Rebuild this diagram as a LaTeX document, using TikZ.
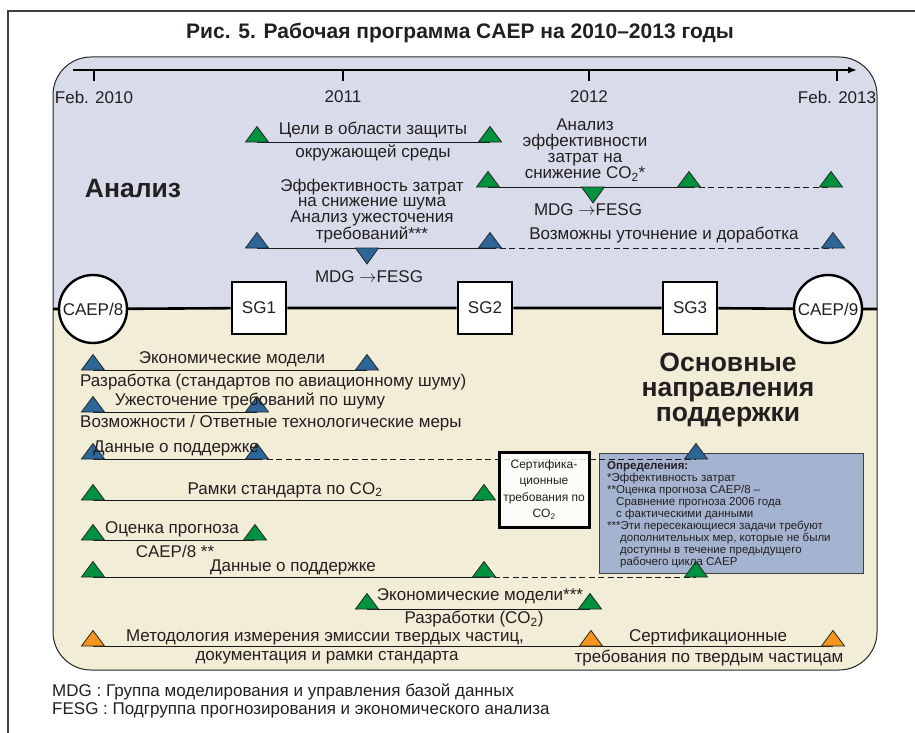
\documentclass[tikz,border=0pt]{standalone}
\usepackage{fontspec}
\setmainfont{Liberation Sans}
\usepackage{tikz}
\usetikzlibrary{arrows.meta,positioning}
\definecolor{anabg}{RGB}{216,220,234}
\definecolor{supbg}{RGB}{241,237,214}
\definecolor{defbg}{RGB}{164,179,207}
\definecolor{tgreen}{RGB}{0,146,63}
\definecolor{tblue}{RGB}{45,103,153}
\definecolor{torange}{RGB}{247,148,30}
\definecolor{txt}{RGB}{35,31,32}

\begin{document}
\begin{tikzpicture}[x=1pt,y=-1pt,
    lbl/.style={font=\fontsize{17}{16}\selectfont,text=txt,inner sep=0pt,align=center},
    head/.style={font=\fontsize{26.5}{25}\selectfont\bfseries,text=txt,inner sep=0pt,align=center},
    defs/.style={font=\fontsize{11.5}{12}\selectfont,text=txt,inner sep=0pt,align=left},
    sgbox/.style={draw,line width=2.6pt,fill=white,minimum width=54pt,minimum height=52pt,inner sep=0pt,font=\fontsize{17}{17}\selectfont,text=txt},
    caep/.style={draw,circle,line width=2.4pt,fill=white,minimum size=68pt,inner sep=0pt,font=\fontsize{17}{17}\selectfont,text=txt},
    bar/.style={line width=1pt,black!90},
    dbar/.style={line width=1pt,black!90,dash pattern=on 6pt off 3.5pt},
    pics/tri/.style={code={\filldraw[fill=#1,draw=black!85,line width=0.8pt] (-11.5,0) -- (11.5,0) -- (0,-15.5) -- cycle;}},
    pics/invtri/.style={code={\filldraw[fill=#1,draw=black!85,line width=0.8pt] (-11.5,0) -- (11.5,0) -- (0,16) -- cycle;}}]
\useasboundingbox (0,0) rectangle (915,733);
%Frame
\draw[line width=2pt,black!75] (8,733) -- (8,11) -- (915,11);
\node[font=\fontsize{21}{21}\selectfont\bfseries,text=txt] (title) at (460,33) {Рис. 5. Рабочая программа CAEP на 2010–2013 годы};
%Shade
\begin{scope}
  \clip[rounded corners=38pt] (53,57) rectangle (877,670);
  \fill[anabg] (53,57) rectangle (877,309);
  \fill[supbg] (53,309) rectangle (877,670);
\end{scope}
\draw[line width=1pt,black!85,rounded corners=38pt] (53,57) rectangle (877,670);
%Axis
\coordinate (ax0) at (73,70);
\coordinate (ax1) at (857,70);
\draw[line width=2pt,-{Latex[length=9pt,width=7pt]}] (ax0) -- (ax1);
\foreach \x/\t in {94/Feb. 2010,343/2011,589/2012,837/Feb. 2013}{
  \draw[line width=2pt] (\x,70) -- (\x,81);
  \node[lbl] at (\x,97) {\t};
}
%Milestones
\coordinate (tl) at (53,309);
\coordinate (tr) at (877,309);
\node[caep] (caep8) at (93,309) {CAEP/8};
\node[sgbox] (sg1) at (259,308) {SG1};
\node[sgbox] (sg2) at (485,308) {SG2};
\node[sgbox] (sg3) at (690,308) {SG3};
\node[caep] (caep9) at (828,309) {CAEP/9};
\draw[line width=2.6pt] (tl) -- (caep8) -- (sg1) -- (sg2) -- (sg3) -- (caep9) -- (tr);
%Analysis rows
\coordinate (e1) at (257,142);
\coordinate (e2) at (490,142);
\coordinate (c1) at (488,187);
\coordinate (c2) at (689,187);
\coordinate (c3) at (831,187);
\coordinate (cd) at (593,187);
\coordinate (n1) at (257,248);
\coordinate (n2) at (490,248);
\coordinate (n3) at (833,248);
\coordinate (nd) at (367,248);
\draw[bar] (e1) -- (e2);
\draw[bar] (c1) -- (c2);
\draw[dbar] (c2) -- (c3);
\draw[bar] (n1) -- (n2);
\draw[dbar] (n2) -- (n3);
\foreach \c in {e1,e2,c1,c2,c3} \pic at (\c) {tri=tgreen};
\pic at (cd) {invtri=tgreen};
\foreach \c in {n1,n2,n3} \pic at (\c) {tri=tblue};
\pic at (nd) {invtri=tblue};
%Support rows
\coordinate (m1) at (93,370);
\coordinate (m2) at (367,370);
\coordinate (s1) at (93,412);
\coordinate (s2) at (257,412);
\coordinate (d1) at (93,459);
\coordinate (d2) at (257,459);
\coordinate (d3) at (696,459);
\coordinate (f1) at (93,500);
\coordinate (f2) at (484,500);
\coordinate (o1) at (93,540);
\coordinate (o2) at (255,540);
\coordinate (g1) at (93,577);
\coordinate (g2) at (484,577);
\coordinate (g3) at (696,577);
\coordinate (k1) at (367,609);
\coordinate (k2) at (590,609);
\coordinate (p1) at (93,646);
\coordinate (p2) at (591,646);
\coordinate (p3) at (833,646);
\fill[defbg,draw=black!75,line width=1pt] (599,453) rectangle (863,573);
\draw[bar] (m1) -- (m2);
\draw[bar] (s1) -- (s2);
\draw[bar] (d1) -- (d2);
\draw[dbar] (d2) -- (d3);
\draw[bar] (f1) -- (f2);
\draw[bar] (o1) -- (o2);
\draw[bar] (g1) -- (g2);
\draw[dbar] (g2) -- (g3);
\draw[bar] (k1) -- (k2);
\draw[bar] (p1) -- (p3);
\foreach \c in {m1,m2,s1,s2,d1,d2,d3} \pic at (\c) {tri=tblue};
\foreach \c in {f1,f2,o1,o2,g1,g2,g3,k1,k2} \pic at (\c) {tri=tgreen};
\foreach \c in {p1,p2,p3} \pic at (\c) {tri=torange};
\node[draw,line width=3pt,fill=white!96!supbg,fill opacity=0.85,text opacity=1,minimum width=90pt,minimum height=75pt,inner sep=0pt,
  font=\fontsize{12}{16.5}\selectfont,text=txt,align=center] (cert) at (544,489.5) {Сертифика-\\ционные\\требования по\\CO\textsubscript{2}};
%Labels
\node[head] (ana) at (133,189) {Анализ};
\node[head] (sup) at (728,390) {Основные\\направления\\поддержки};
\node[lbl] (envt) at (373,130) {Цели в области защиты};
\node[lbl] (envb) at (373,153) {окружающей среды};
\node[lbl] (cost) at (585,150) {Анализ\\эффективности\\затрат на\\снижение CO\textsubscript{2}*};
\node[lbl] (cmdg) at (588,210) {MDG $\rightarrow$FESG};
\node[lbl,font=\fontsize{17}{15.3}\selectfont] (noise) at (372,211) {Эффективность затрат\\на снижение шума\\Анализ ужесточения\\требований***};
\node[lbl] (nmdg) at (369,277) {MDG $\rightarrow$FESG};
\node[lbl] (refine) at (664,235) {Возможны уточнение и доработка};
\node[lbl] (econ) at (232,359) {Экономические модели};
\node[lbl,anchor=west] (dev) at (80,382) {Разработка (стандартов по авиационному шуму)};
\node[lbl] (strin) at (250,401) {Ужесточение требований по шуму};
\node[lbl,anchor=west] (tech) at (80,423) {Возможности / Ответные технологические меры};
\node[lbl] (data) at (176,448) {Данные о поддержке};
\node[lbl] (frame) at (285,490) {Рамки стандарта по CO\textsubscript{2}};
\node[lbl] (outl) at (172,529) {Оценка прогноза};
\node[lbl] (outc) at (175,551) {CAEP/8 **};
\node[lbl] (gdata) at (293,567) {Данные о поддержке};
\node[lbl] (econc) at (480,596) {Экономические модели***};
\node[lbl] (devc) at (474,619) {Разработки (CO\textsubscript{2})};
\node[lbl] (pmt) at (325,637) {Методология измерения эмиссии твердых частиц,};
\node[lbl] (pmb) at (327,658) {документация и рамки стандарта};
\node[lbl] (pct) at (708,637) {Сертификационные};
\node[lbl] (pcb) at (709,658) {требования по твердым частицам};
\node[defs,anchor=north west] (def) at (607,461) {\textbf{Определения:}\\
*Эффективность затрат\\
**Оценка прогноза CAEP/8 –\\
\hspace*{9pt}Сравнение прогноза 2006 года\\
\hspace*{9pt}с фактическими данными\\
***Эти пересекающиеся задачи требуют\\
\hspace*{13pt}дополнительных мер, которые не были\\
\hspace*{13pt}доступны в течение предыдущего\\
\hspace*{13pt}рабочего цикла CAEP};
%Footnote
\node[lbl,anchor=west] (mdg) at (52,692) {MDG : Группа моделирования и управления базой данных};
\node[lbl,anchor=west] (fesg) at (52,710) {FESG : Подгруппа прогнозирования и экономического анализа};
\end{tikzpicture}
\end{document}
